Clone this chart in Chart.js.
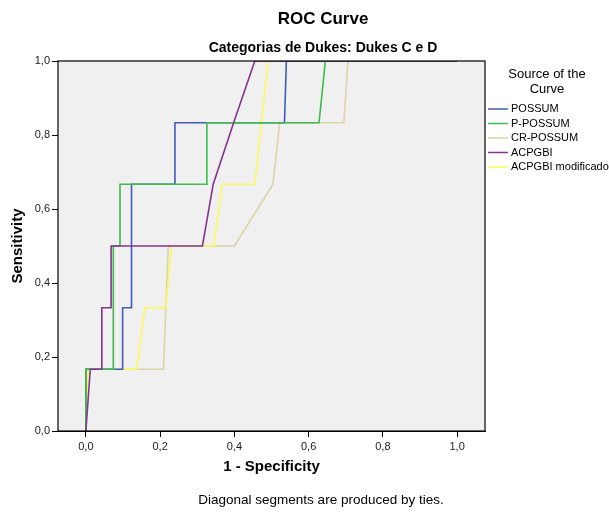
<!DOCTYPE html>
<html>
<head>
<meta charset="utf-8">
<script src="https://cdn.jsdelivr.net/npm/chart.js@4.4.1/dist/chart.umd.min.js"></script>
<style>
  html, body { margin: 0; padding: 0; background: #fff; }
  #wrap { width: 609px; height: 512px; }
</style>
</head>
<body>
<div id="wrap"><canvas id="roc" width="609" height="512"></canvas></div>
<script>
// ROC curve points: [1 - specificity, sensitivity]
const possum = [[0,0],[0,0.167],[0.099,0.167],[0.099,0.333],[0.123,0.333],[0.123,0.667],[0.24,0.667],[0.24,0.833],[0.535,0.833],[0.54,1],[1,1]];
const pPossum = [[0,0],[0,0.167],[0.074,0.167],[0.074,0.5],[0.092,0.5],[0.092,0.667],[0.326,0.667],[0.326,0.833],[0.628,0.833],[0.645,1],[1,1]];
const crPossum = [[0,0],[0,0.167],[0.209,0.167],[0.222,0.5],[0.4,0.5],[0.504,0.667],[0.522,0.833],[0.695,0.833],[0.706,1],[1,1]];
const acpgbi = [[0,0],[0.012,0.167],[0.043,0.167],[0.043,0.333],[0.068,0.333],[0.068,0.5],[0.314,0.5],[0.343,0.667],[0.398,0.833],[0.455,1],[1,1]];
const acpgbiMod = [[0,0],[0.006,0.167],[0.137,0.167],[0.159,0.333],[0.215,0.333],[0.231,0.5],[0.345,0.5],[0.367,0.667],[0.455,0.667],[0.491,1],[1,1]];

const seriesNames = ["POSSUM", "P-POSSUM", "CR-POSSUM", "ACPGBI", "ACPGBI modificado"];
const seriesColors = ["#3f5cb8", "#3dbb4c", "#d9d5a6", "#84368c", "#fafa5a"];
const drawOrder = [3, 2, 5, 1, 4]; // lower = drawn on top

const xTicks = [0, 0.2, 0.4, 0.6, 0.8, 1.0];
const yTicks = [0, 0.2, 0.4, 0.6, 0.8, 1.0];

const FONT = "'Liberation Sans', Arial, sans-serif";
const fmt = v => v.toFixed(1).replace(".", ",");

const allSeries = [possum, pPossum, crPossum, acpgbi, acpgbiMod];
const datasets = allSeries.map((pts, i) => ({
  label: seriesNames[i],
  data: pts.map(p => ({ x: p[0], y: p[1] })),
  borderColor: seriesColors[i],
  backgroundColor: seriesColors[i],
  borderWidth: 1.6,
  showLine: true,
  tension: 0,
  pointRadius: 0,
  order: drawOrder[i]
}));

const frame = {
  id: "frame",
  beforeDatasetsDraw(chart) {
    const a = chart.chartArea, c = chart.ctx;
    c.save();
    c.fillStyle = "#f0f0f0";
    c.fillRect(a.left, a.top, a.right - a.left, a.bottom - a.top);
    c.restore();
  },
  afterDraw(chart) {
    const a = chart.chartArea, c = chart.ctx;
    c.save();
    c.strokeStyle = "#000";
    c.lineWidth = 1.2;
    c.strokeRect(a.left, a.top, a.right - a.left, a.bottom - a.top);

    // titles
    c.fillStyle = "#000";
    c.textAlign = "center";
    c.textBaseline = "middle";
    c.font = "bold 17px " + FONT;
    c.fillText("ROC Curve", 323, 19);
    c.font = "bold 14px " + FONT;
    c.fillText("Categorias de Dukes: Dukes C e D", 323, 48);

    // axis titles
    c.font = "bold 15px " + FONT;
    c.fillText("1 - Specificity", (a.left + a.right) / 2, 467);
    c.save();
    c.translate(18, (a.top + a.bottom) / 2);
    c.rotate(-Math.PI / 2);
    c.fillText("Sensitivity", 0, 0);
    c.restore();

    // footnote
    c.font = "13.5px " + FONT;
    c.fillText("Diagonal segments are produced by ties.", 321, 500);

    // legend
    c.font = "13px " + FONT;
    c.fillText("Source of the", 547, 74);
    c.fillText("Curve", 547, 89);
    c.font = "11px " + FONT;
    c.textAlign = "left";
    seriesNames.forEach((name, i) => {
      const y = 109 + i * 14.5;
      c.strokeStyle = seriesColors[i];
      c.lineWidth = 1.5;
      c.beginPath();
      c.moveTo(488, y);
      c.lineTo(508, y);
      c.stroke();
      c.fillStyle = "#000";
      c.fillText(name, 511, y);
    });
    c.restore();
  }
};

new Chart(document.getElementById("roc"), {
  type: "scatter",
  data: { datasets },
  options: {
    responsive: false,
    animation: false,
    layout: { padding: { top: 61, right: 124, bottom: 0, left: 0 } },
    plugins: { legend: { display: false }, tooltip: { enabled: false } },
    scales: {
      x: {
        type: "linear",
        min: -0.075,
        max: 1.075,
        afterBuildTicks: s => { s.ticks = xTicks.map(v => ({ value: v })); },
        afterFit: s => { s.height = 81; },
        ticks: { callback: v => fmt(v), color: "#222", font: { family: FONT, size: 11 }, padding: 3, maxRotation: 0 },
        grid: { drawOnChartArea: false, drawTicks: true, tickLength: 6, color: "#000" },
        border: { display: true, color: "#000" }
      },
      y: {
        type: "linear",
        min: 0,
        max: 1,
        afterBuildTicks: s => { s.ticks = yTicks.map(v => ({ value: v })); },
        afterFit: s => { s.width = 58; },
        ticks: { callback: v => fmt(v), color: "#222", font: { family: FONT, size: 11 }, padding: 2 },
        grid: { drawOnChartArea: false, drawTicks: true, tickLength: 6, color: "#000" },
        border: { display: true, color: "#000" }
      }
    }
  },
  plugins: [frame]
});
</script>
</body>
</html>
